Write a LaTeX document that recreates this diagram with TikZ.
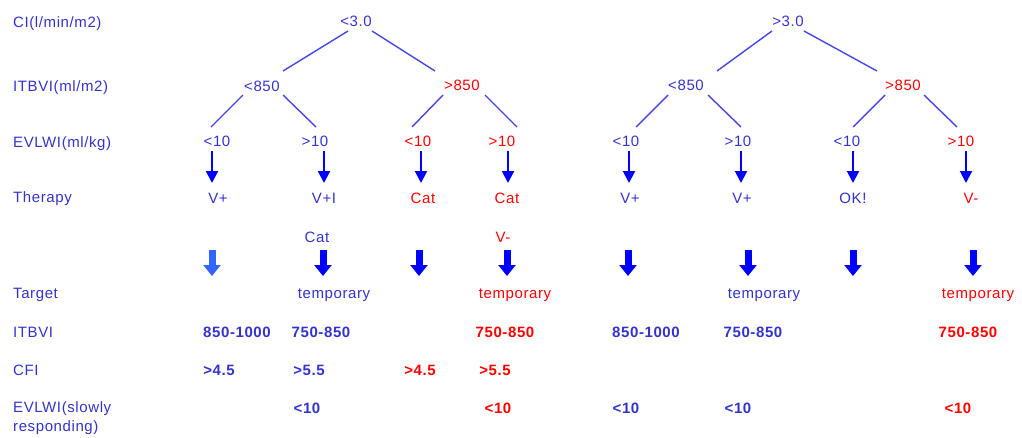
\documentclass[tikz,border=0pt]{standalone}
\usepackage{fontspec}
\setmainfont{Liberation Sans}[LetterSpace=4]
\usetikzlibrary{calc,arrows.meta}
\definecolor{tblue}{RGB}{51,51,204}
\definecolor{lblue}{RGB}{70,70,230}
\definecolor{ablue}{RGB}{0,0,255}
\definecolor{lightarr}{RGB}{51,102,255}
\definecolor{tred}{RGB}{255,0,0}
\begin{document}
\begin{tikzpicture}[x=1pt,y=-1pt,
  txt/.style={inner sep=0pt, text height=11pt, text depth=0pt, font=\fontsize{15}{18}\selectfont, text=tblue},
  rtxt/.style={txt, text=tred},
  btxt/.style={txt, font=\fontsize{15}{18}\selectfont\bfseries},
  brtxt/.style={btxt, text=tred},
  lab/.style={txt, anchor=west},
  edge/.style={draw=lblue, line width=1.4pt},
  sarr/.style={draw=ablue, line width=2pt, -{Triangle[width=12pt,length=12pt]}},
  fat/.style={draw=ablue, line width=7pt, -{Triangle[width=17pt,length=11pt]}},
]
\useasboundingbox (0,0) rectangle (1022,437);

% row labels
\node[lab] (l1) at (13,22) {CI(l/min/m2)};
\node[lab] (l2) at (13,86) {ITBVI(ml/m2)};
\node[lab] (l3) at (13,142) {EVLWI(ml/kg)};
\node[lab] (l4) at (13,197) {Therapy};
\node[lab] (l5) at (13,293) {Target};
\node[lab] (l6) at (13,332) {ITBVI};
\node[lab] (l7) at (13,370) {CFI};
\node[inner sep=0pt, anchor=north west, align=left, text=tblue,
      font=\fontsize{15}{19}\selectfont] (l8) at (13,401) {EVLWI(slowly\\responding)};

% tree 1
\node[txt] (r1) at (356,21) {<3.0};
\node[txt] (a1) at (262,86) {<850};
\node[rtxt] (b1) at (462,85) {>850};
% tree 2
\node[txt] (r2) at (788,21) {>3.0};
\node[txt] (a2) at (686,85) {<850};
\node[rtxt] (b2) at (903,85) {>850};

% EVLWI row
\node[txt]  (e1) at (217,141) {<10};
\node[txt]  (e2) at (315,141) {>10};
\node[rtxt] (e3) at (418,141) {<10};
\node[rtxt] (e4) at (502,141) {>10};
\node[txt]  (e5) at (626,141) {<10};
\node[txt]  (e6) at (738,141) {>10};
\node[txt]  (e7) at (847,141) {<10};
\node[rtxt] (e8) at (961,141) {>10};

% therapy row
\node[txt]  (t1) at (218,198) {V+};
\node[txt]  (t2) at (324,198) {V+I};
\node[rtxt] (t3) at (423,198) {Cat};
\node[rtxt] (t4) at (507,198) {Cat};
\node[txt]  (t5) at (630,198) {V+};
\node[txt]  (t6) at (742,198) {V+};
\node[txt]  (t7) at (853,198) {OK!};
\node[rtxt] (t8) at (971,198) {V-};
\node[txt]  (u2) at (317,237) {Cat};
\node[rtxt] (u4) at (503,237) {V-};

% tree edges
\draw[edge] ($(r1)+(-8,10)$) -- ($(a1)+(21,-15)$);
\draw[edge] ($(r1)+(16,10)$) -- ($(b1)+(-27,-14)$);
\draw[edge] ($(a1)+(-19,9)$) -- ($(e1)+(-6,-14)$);
\draw[edge] ($(a1)+(21,9)$) -- ($(e2)+(1,-14)$);
\draw[edge] ($(b1)+(-19,10)$) -- ($(e3)+(-6,-14)$);
\draw[edge] ($(b1)+(23,10)$) -- ($(e4)+(15,-14)$);
\draw[edge] ($(r2)+(-16,10)$) -- ($(a2)+(31,-14)$);
\draw[edge] ($(r2)+(16,10)$) -- ($(b2)+(-26,-14)$);
\draw[edge] ($(a2)+(-18,10)$) -- ($(e5)+(10,-14)$);
\draw[edge] ($(a2)+(22,10)$) -- ($(e6)+(3,-14)$);
\draw[edge] ($(b2)+(-18,10)$) -- ($(e7)+(6,-14)$);
\draw[edge] ($(b2)+(21,10)$) -- ($(e8)+(-4,-14)$);

% small arrows
\draw[sarr] ($(e1)+(-5,10)$) -- ($(t1)+(-6,-15)$);
\draw[sarr] ($(e2)+(9,10)$) -- ($(t2)+(0,-15)$);
\draw[sarr] ($(e3)+(3,10)$) -- ($(t3)+(-2,-15)$);
\draw[sarr] ($(e4)+(6,10)$) -- ($(t4)+(1,-15)$);
\draw[sarr] ($(e5)+(3,10)$) -- ($(t5)+(-1,-15)$);
\draw[sarr] ($(e6)+(3,10)$) -- ($(t6)+(-1,-15)$);
\draw[sarr] ($(e7)+(6,10)$) -- ($(t7)+(0,-15)$);
\draw[sarr] ($(e8)+(5,10)$) -- ($(t8)+(-5,-15)$);

% fat arrows
\draw[fat, draw=lightarr] (212,250) -- (212,276);
\draw[fat] (323,250) -- (323,276);
\draw[fat] (419,250) -- (419,276);
\draw[fat] (507,250) -- (507,276);
\draw[fat] (628,250) -- (628,276);
\draw[fat] (748,250) -- (748,276);
\draw[fat] (853,250) -- (853,276);
\draw[fat] (973,250) -- (973,276);

% target row
\node[txt]  (g2) at (334,293) {temporary};
\node[rtxt] (g4) at (515,293) {temporary};
\node[txt]  (g6) at (764,293) {temporary};
\node[rtxt] (g8) at (978,293) {temporary};

% ITBVI row
\node[btxt]  (i1) at (237,332) {850-1000};
\node[btxt]  (i2) at (321,332) {750-850};
\node[brtxt] (i4) at (505,332) {750-850};
\node[btxt]  (i5) at (646,332) {850-1000};
\node[btxt]  (i6) at (753,332) {750-850};
\node[brtxt] (i8) at (968,332) {750-850};

% CFI row
\node[btxt]  (c1) at (219,370) {>4.5};
\node[btxt]  (c2) at (309,370) {>5.5};
\node[brtxt] (c3) at (420,370) {>4.5};
\node[brtxt] (c4) at (495,370) {>5.5};

% EVLWI slowly responding row
\node[btxt]  (s2) at (307,408) {<10};
\node[brtxt] (s4) at (498,408) {<10};
\node[btxt]  (s5) at (626,408) {<10};
\node[btxt]  (s6) at (738,408) {<10};
\node[brtxt] (s8) at (958,408) {<10};
\end{tikzpicture}
\end{document}
